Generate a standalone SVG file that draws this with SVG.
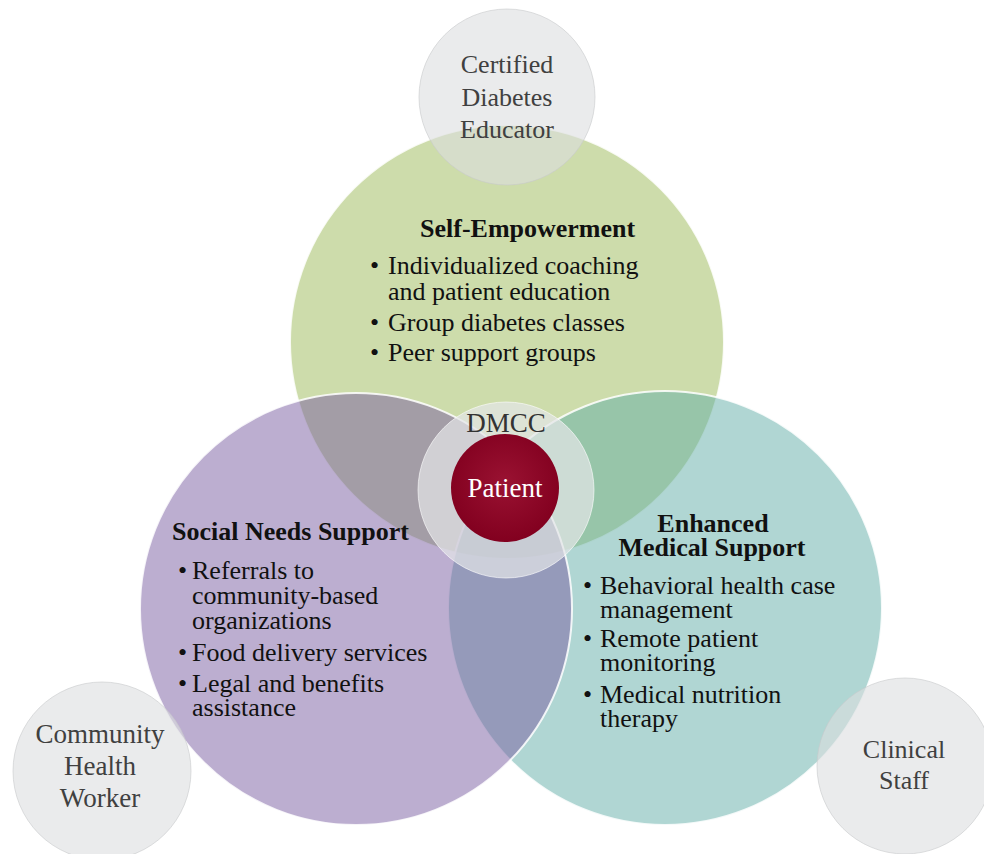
<svg xmlns="http://www.w3.org/2000/svg" width="984" height="854" viewBox="0 0 984 854">
  <defs>
    <radialGradient id="patientFill" cx="50%" cy="45%" r="55%">
      <stop offset="0%" stop-color="#9a1232"/>
      <stop offset="100%" stop-color="#82001f"/>
    </radialGradient>
    <style>
      .ring { stroke: #ffffff; stroke-width: 2; stroke-opacity: 0.85; }
      .green { fill: #9bb957; fill-opacity: 0.5; }
      .purple { fill: #795da1; fill-opacity: 0.5; }
      .teal { fill: #61ada7; fill-opacity: 0.5; }
      .role { fill: #dcdde0; fill-opacity: 0.6; stroke: #c8c9cc; stroke-width: 1; stroke-opacity: 0.6; }
      .hub { fill: #e4e5e8; fill-opacity: 0.7; stroke: #ffffff; stroke-width: 1; stroke-opacity: 0.6; }
      text { font-family: "Liberation Serif", "Times New Roman", serif; }
      .roleText { font-size: 26px; fill: #404040; text-anchor: middle; }
      .title { font-size: 26px; font-weight: bold; fill: #111111; }
      .body { font-size: 26px; fill: #111111; }
    </style>
  </defs>

  <rect width="984" height="854" fill="#ffffff"/>

  <!-- Three overlapping support domains (purple drawn last so it tints the overlaps) -->
  <g id="self-empowerment">
    <circle class="green ring" cx="507" cy="342" r="217"/>
  </g>
  <g id="enhanced-medical">
    <circle class="teal ring" cx="665" cy="608" r="217"/>
  </g>
  <g id="social-needs">
    <circle class="purple ring" cx="356" cy="609" r="216"/>
  </g>

  <!-- Care team roles -->
  <g id="cde">
    <circle class="role" cx="507" cy="97" r="88"/>
    <text class="roleText" x="507" y="73">Certified</text>
    <text class="roleText" x="507" y="106">Diabetes</text>
    <text class="roleText" x="507" y="138">Educator</text>
  </g>
  <g id="chw">
    <circle class="role" cx="102" cy="771" r="89"/>
    <text class="roleText" x="100" y="743" style="font-size:27px">Community</text>
    <text class="roleText" x="100" y="775" style="font-size:27px">Health</text>
    <text class="roleText" x="100" y="807" style="font-size:27px">Worker</text>
  </g>
  <g id="clinical-staff">
    <circle class="role" cx="905" cy="766" r="88"/>
    <text class="roleText" x="904" y="758">Clinical</text>
    <text class="roleText" x="904" y="789">Staff</text>
  </g>

  <!-- Domain contents -->
  <g id="self-empowerment-text">
    <text class="title" x="420" y="237">Self-Empowerment</text>
    <text class="body" x="370" y="274">•</text>
    <text class="body" x="388" y="274">Individualized coaching</text>
    <text class="body" x="388" y="300">and patient education</text>
    <text class="body" x="370" y="331">•</text>
    <text class="body" x="388" y="331">Group diabetes classes</text>
    <text class="body" x="370" y="361">•</text>
    <text class="body" x="388" y="361">Peer support groups</text>
  </g>
  <g id="social-needs-text">
    <text class="title" x="172" y="540">Social Needs Support</text>
    <text class="body" x="178" y="579">•</text>
    <text class="body" x="192" y="579">Referrals to</text>
    <text class="body" x="192" y="604">community-based</text>
    <text class="body" x="192" y="629">organizations</text>
    <text class="body" x="178" y="661">•</text>
    <text class="body" x="192" y="661">Food delivery services</text>
    <text class="body" x="178" y="692">•</text>
    <text class="body" x="192" y="692">Legal and benefits</text>
    <text class="body" x="192" y="716">assistance</text>
  </g>
  <g id="enhanced-medical-text">
    <text class="title" x="713" y="532" text-anchor="middle">Enhanced</text>
    <text class="title" x="712" y="556" text-anchor="middle">Medical Support</text>
    <text class="body" x="583" y="594">•</text>
    <text class="body" x="600" y="594">Behavioral health case</text>
    <text class="body" x="600" y="618">management</text>
    <text class="body" x="583" y="647">•</text>
    <text class="body" x="600" y="647">Remote patient</text>
    <text class="body" x="600" y="671">monitoring</text>
    <text class="body" x="583" y="703">•</text>
    <text class="body" x="600" y="703">Medical nutrition</text>
    <text class="body" x="600" y="727">therapy</text>
  </g>

  <!-- Care coordination hub with patient at the centre -->
  <g id="dmcc">
    <circle class="hub" cx="506" cy="490" r="88"/>
    <text x="506" y="432" text-anchor="middle" style="font-size:27px;fill:#333333">DMCC</text>
  </g>
  <g id="patient">
    <circle cx="505" cy="488" r="54" fill="url(#patientFill)"/>
    <text x="505" y="497" text-anchor="middle" style="font-size:27px;fill:#ffffff">Patient</text>
  </g>
</svg>
